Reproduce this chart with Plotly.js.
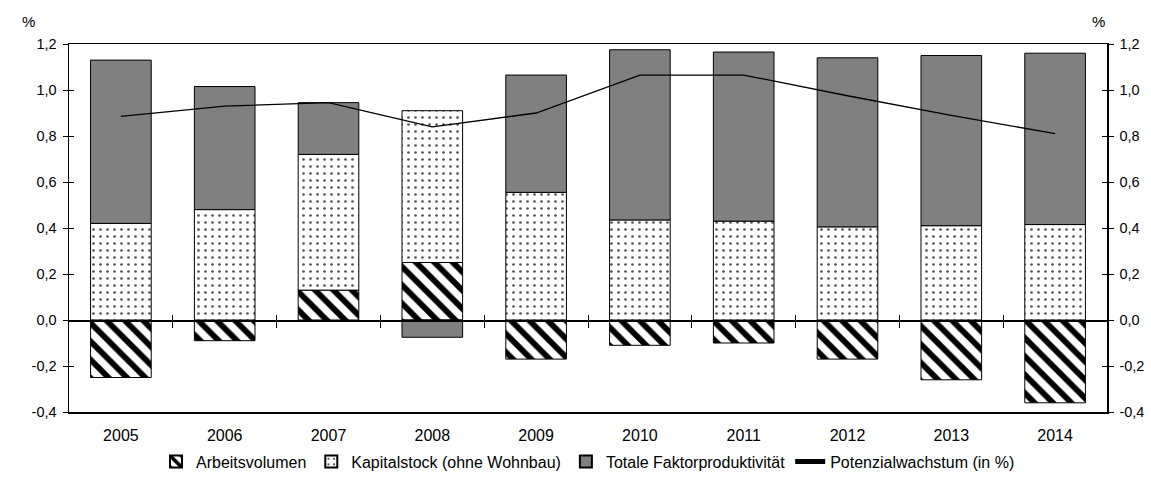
<!DOCTYPE html>
<html>
<head>
<meta charset="utf-8">
<script src="https://cdn.plot.ly/plotly-3.0.1.min.js"></script>
<style>html,body{margin:0;padding:0;background:#fff}#chart{width:1151px;height:499px}</style>
</head>
<body>
<div id="chart"></div>
<script>
var years = ['2005','2006','2007','2008','2009','2010','2011','2012','2013','2014'];
var arbeitsvolumen = [-0.25, -0.09, 0.13, 0.25, -0.17, -0.11, -0.10, -0.17, -0.26, -0.36];
var kapitalstock = [0.42, 0.48, 0.59, 0.66, 0.555, 0.435, 0.43, 0.405, 0.41, 0.415];
var tfp = [0.71, 0.535, 0.225, -0.075, 0.51, 0.74, 0.735, 0.735, 0.74, 0.745];
var potenzial = [0.885, 0.93, 0.945, 0.84, 0.90, 1.065, 1.065, 0.975, 0.89, 0.81];
var yTickVals = [-0.4, -0.2, 0, 0.2, 0.4, 0.6, 0.8, 1.0, 1.2];
var yTickText = ['-0,4', '-0,2', '0,0', '0,2', '0,4', '0,6', '0,8', '1,0', '1,2'];
var boundaryTicks = [0.5, 1.5, 2.5, 3.5, 4.5, 5.5, 6.5, 7.5, 8.5];

var FONT = 'Liberation Sans, Arial, sans-serif';

var traces = [
  {type:'bar', name:'Arbeitsvolumen', x:years, y:arbeitsvolumen,
   marker:{color:'#ffffff', line:{color:'#000', width:1},
     pattern:{shape:'\\', fgcolor:'#000', bgcolor:'#fff', size:13, solidity:0.45}}},
  {type:'bar', name:'Kapitalstock (ohne Wohnbau)', x:years, y:kapitalstock,
   marker:{color:'#ffffff', line:{color:'#000', width:1},
     pattern:{shape:'.', fgcolor:'#555', bgcolor:'#fff', size:7, solidity:0.12}}},
  {type:'bar', name:'Totale Faktorproduktivität', x:years, y:tfp,
   marker:{color:'#808080', line:{color:'#000', width:1}}},
  {type:'scatter', mode:'lines', name:'Potenzialwachstum (in %)', x:years, y:potenzial,
   line:{color:'#000', width:1.3}}
];

var axisY = {range:[-0.4,1.2], tickvals:yTickVals, ticktext:yTickText, showline:true,
  linecolor:'#000', linewidth:1.5, ticks:'outside', ticklen:5, tickcolor:'#000',
  showgrid:false, zeroline:false, tickfont:{family:FONT, size:14.5, color:'#000'}, fixedrange:true};

var layout = {
  width:1151, height:499,
  margin:{l:69, r:44, t:44, b:87},
  paper_bgcolor:'#fff', plot_bgcolor:'#fff',
  barmode:'relative', bargap:0.416,
  showlegend:true,
  font:{family:FONT, size:14, color:'#000'},
  xaxis:{type:'category', showline:true, mirror:true, linecolor:'#000', linewidth:1.5,
    ticks:'', showgrid:false, zeroline:false, ticklabelstandoff:8,
    tickfont:{family:FONT, size:16, color:'#000'}},
  xaxis2:{overlaying:'x', anchor:'free', position:0.25, range:[-0.5,9.5], tickvals:boundaryTicks,
    ticks:'outside', ticklen:6, tickcolor:'#000', showticklabels:false, showline:true,
    linecolor:'#000', linewidth:1.5, showgrid:false, zeroline:false},
  xaxis3:{overlaying:'x', anchor:'free', position:0.25, side:'top', range:[-0.5,9.5], tickvals:boundaryTicks,
    ticks:'outside', ticklen:5, tickcolor:'#000', showticklabels:false, showline:false,
    showgrid:false, zeroline:false},
  yaxis:Object.assign({}, axisY, {side:'left', ticklabelstandoff:3}),
  yaxis2:Object.assign({}, axisY, {side:'right', overlaying:'y', anchor:'x', ticklabelstandoff:3}),
  yaxis3:Object.assign({}, axisY, {side:'left', overlaying:'y', anchor:'x', ticks:'inside', showticklabels:false}),
  yaxis4:Object.assign({}, axisY, {side:'right', overlaying:'y', anchor:'x', ticks:'inside', showticklabels:false}),
  legend:{orientation:'h', x:0.5, xanchor:'center', y:-0.135, yanchor:'middle',
    traceorder:'normal', font:{family:FONT, size:16, color:'#000'}, itemsizing:'constant'},
  annotations:[
    {text:'%', xref:'paper', yref:'paper', x:-0.047, y:1.09, showarrow:false, font:{family:FONT, size:15, color:'#000'}},
    {text:'%', xref:'paper', yref:'paper', x:1.0, y:1.09, showarrow:false, font:{family:FONT, size:15, color:'#000'}}
  ]
};

traces.push({type:'scatter', x:[0], y:[0], xaxis:'x2', yaxis:'y2', mode:'markers', marker:{opacity:0}, showlegend:false, hoverinfo:'skip'});
traces.push({type:'scatter', x:[0], y:[0], xaxis:'x3', yaxis:'y3', mode:'markers', marker:{opacity:0}, showlegend:false, hoverinfo:'skip'});
traces.push({type:'scatter', x:[0], y:[0], xaxis:'x2', yaxis:'y4', mode:'markers', marker:{opacity:0}, showlegend:false, hoverinfo:'skip'});

Plotly.newPlot('chart', traces, layout, {staticPlot:true, displayModeBar:false});
</script>
</body>
</html>
